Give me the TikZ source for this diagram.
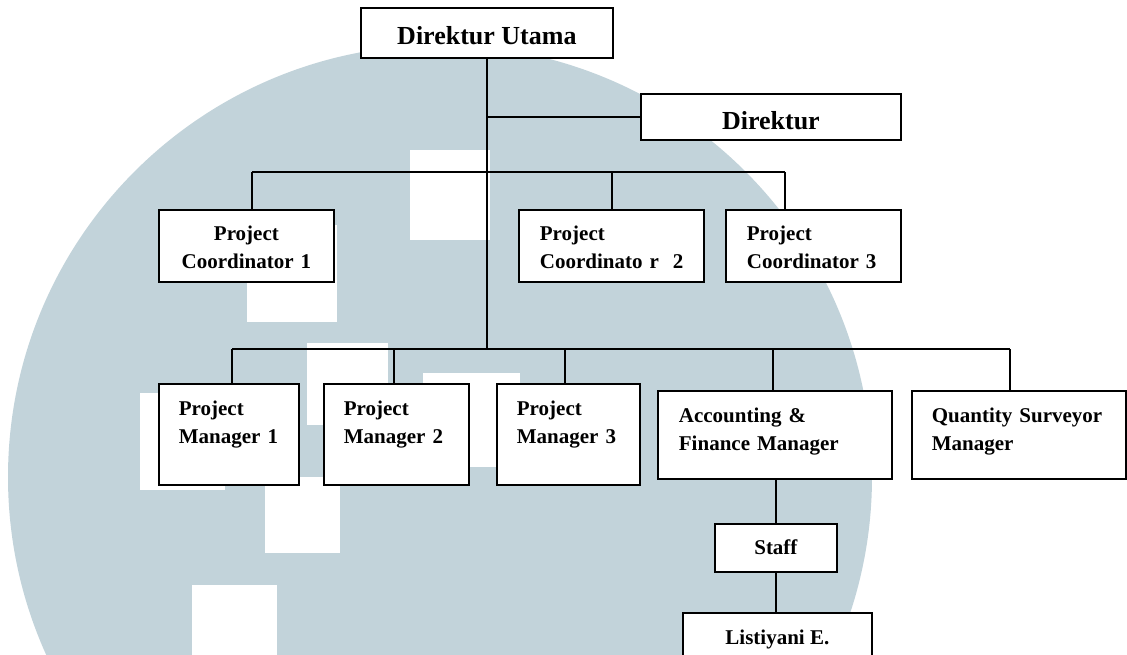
\documentclass[tikz,border=0pt]{standalone}
\usepackage{fontspec}
\setmainfont{Liberation Serif}
\usetikzlibrary{positioning}
\definecolor{OrgWash}{RGB}{194,211,218}
\newcommand{\orgfont}{\fontsize{21}{28}\selectfont\bfseries}
\newcommand{\orgbigfont}{\fontsize{26}{32}\selectfont\bfseries}
\tikzset{
  org/box/.style={
    draw=black,
    line width=1.8pt,
    fill=white,
    anchor=north west,
    inner sep=0pt,
    font=\orgfont
  },
  org/mid/.style={org/box, align=center},
  org/left/.style={org/box, align=left, inner xsep=20pt},
  org/link/.style={line width=1.5pt, draw=black}
}

\begin{document}
\begin{tikzpicture}[x=1pt,y=-1pt]
  \useasboundingbox (0,0) rectangle (1127,655);
  % watermark in the back
  \begin{scope}
    \clip (0,0) rectangle (1127,655);
    \fill[OrgWash] (440,477) circle [radius=432pt];
    \fill[white] (410,150) rectangle (490,240);
    \fill[white] (247,225) rectangle (337,322);
    \fill[white] (307,343) rectangle (388,425);
    \fill[white] (265,477) rectangle (340,553);
    \fill[white] (423,373) rectangle (520,467);
    \fill[white] (140,393) rectangle (225,490);
    \fill[white] (192,585) rectangle (277,655);
  \end{scope}

  \node[org/mid, font=\orgbigfont, minimum width=252pt, text height=36.5pt, text depth=13pt] (du) at (360,7.5) {Direktur Utama};
  \node[org/mid, font=\orgbigfont, minimum width=260pt, text height=36pt, text depth=10pt] (dir) at (640,93) {Direktur};

  \node[org/mid, text width=175pt, text height=31pt, text depth=41pt] (pc1) at (158,209) {Project\\Coordinator 1};
  \node[org/left, inner xsep=21pt, text width=143pt, text height=31pt, text depth=41pt] (pc2) at (518,209) {Project\\\mbox{Coordinato r \ 2}};
  \node[org/left, inner xsep=21pt, text width=133pt, text height=31pt, text depth=41pt] (pc3) at (725,209) {Project\\\mbox{Coordinator 3}};

  \node[org/left, text width=100pt, text height=32pt, text depth=69pt] (pm1) at (158,383) {Project\\\mbox{Manager 1}};
  \node[org/left, text width=105pt, text height=32pt, text depth=69pt] (pm2) at (323,383) {Project\\\mbox{Manager 2}};
  \node[org/left, text width=103pt, text height=32pt, text depth=69pt] (pm3) at (496,383) {Project\\\mbox{Manager 3}};
  \node[org/left, inner xsep=21pt, text width=192pt, text height=32pt, text depth=56pt] (afm) at (657,390) {Accounting \&\\Finance Manager};
  \node[org/left, text width=174pt, text height=32pt, text depth=56pt] (qsm) at (911,390) {\mbox{Quantity Surveyor}\\Manager};

  \node[org/mid, minimum width=122pt, text height=31pt, text depth=17pt] (staff) at (714,523) {Staff};
  \node[org/mid, minimum width=189pt, text height=32pt, text depth=20pt] (lis) at (682,612) {Listiyani E.};

  \foreach \n/\x in {c1/252, c2/612, c3/785}
    \coordinate (\n) at (\x,172);
  \foreach \n/\x in {m1/232, m2/394, m3/565, m4/773, m5/1010}
    \coordinate (\n) at (\x,349);

  \draw[org/link] (du.south) -- (du.south |- m1);
  \draw[org/link] (du.south |- dir.west) -- (dir.west);
  \draw[org/link] (c1) -- (c3);
  \draw[org/link] (m1) -- (m5);
  \foreach \n/\b in {c1/pc1, c2/pc2, c3/pc3, m1/pm1, m2/pm2, m3/pm3, m4/afm, m5/qsm}
    \draw[org/link] (\n) -- (\n |- \b.north);
  \draw[org/link] (staff.north) -- (staff.north |- afm.south);
  \draw[org/link] (staff.south) -- (staff.south |- lis.north);
\end{tikzpicture}
\end{document}
